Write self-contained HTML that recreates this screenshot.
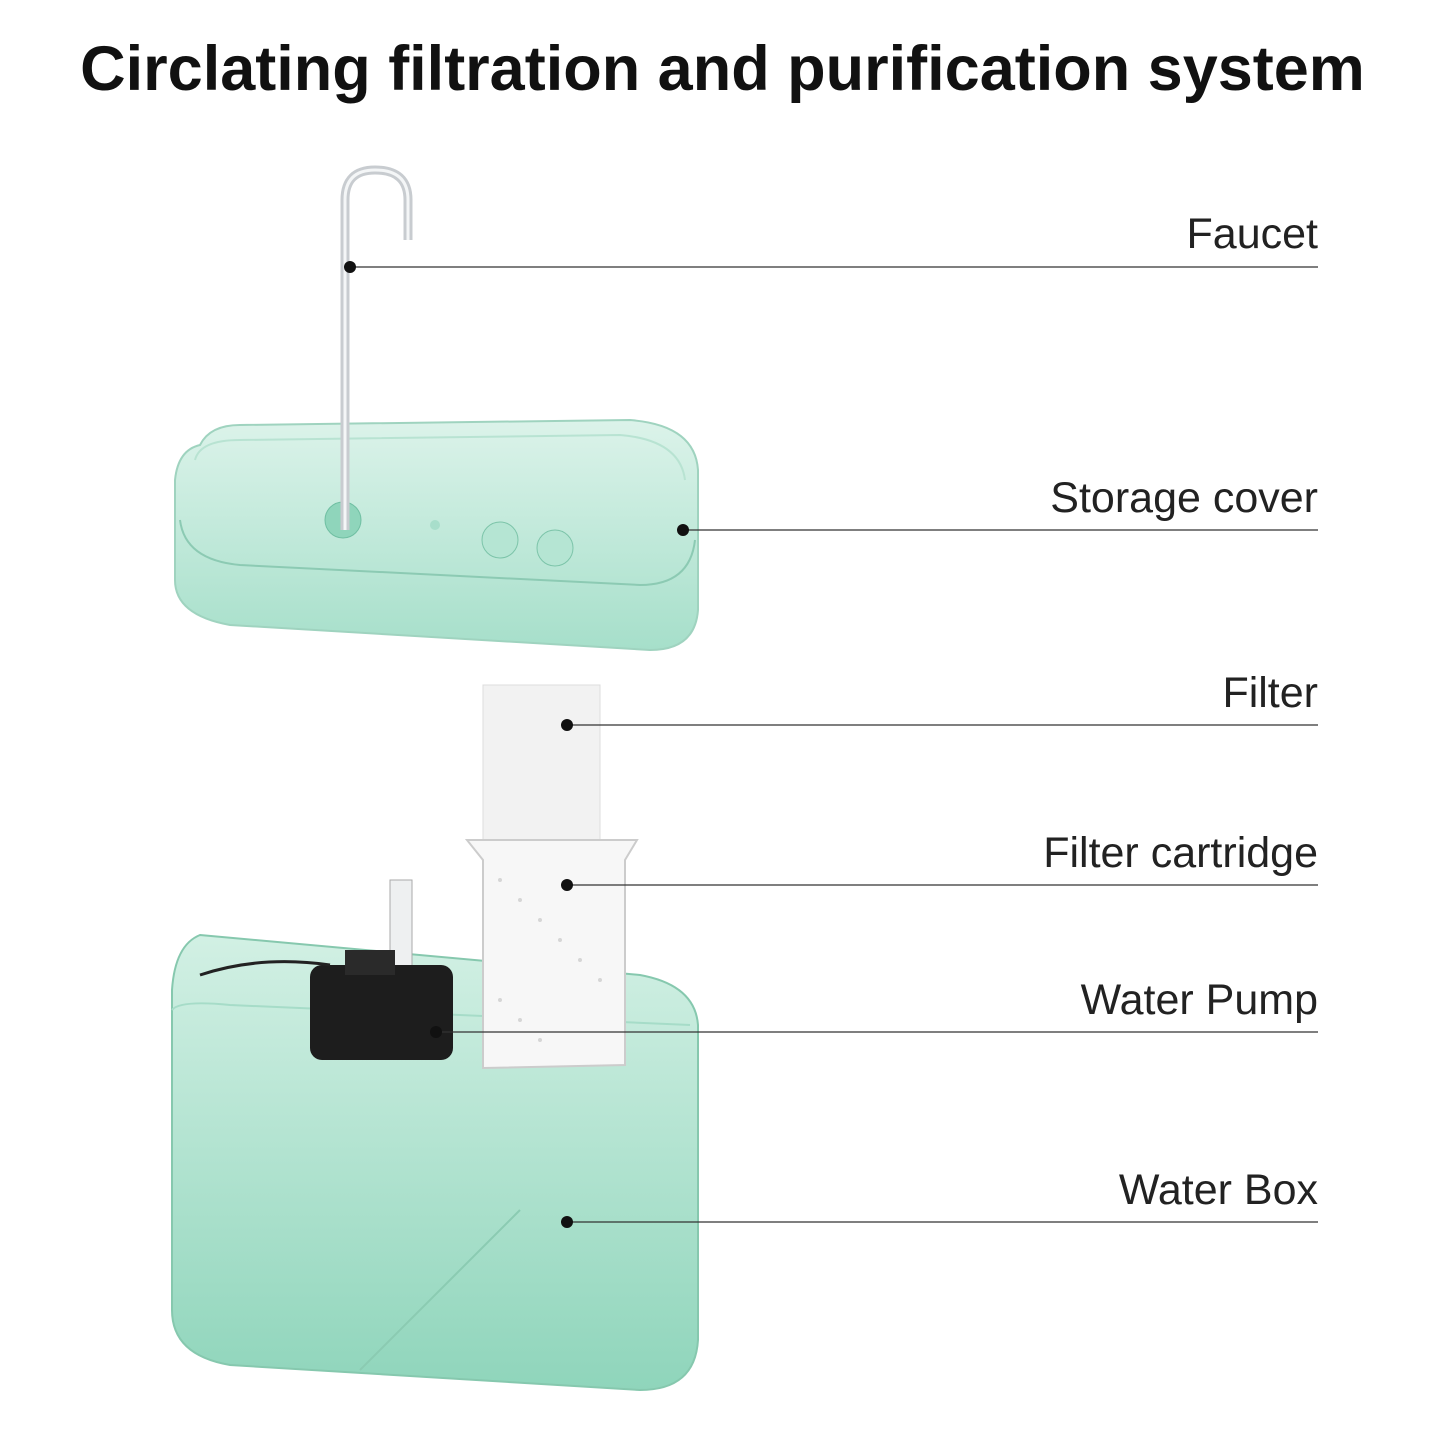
<!DOCTYPE html>
<html><head><meta charset="utf-8"><style>
html,body{margin:0;padding:0;background:#fff;}
body{width:1445px;height:1445px;position:relative;overflow:hidden;font-family:"Liberation Sans",sans-serif;}
.t{position:absolute;left:0;width:1445px;top:33px;text-align:center;font-size:63px;font-weight:bold;color:#111;}
.l{position:absolute;right:127px;font-size:43px;color:#222;}
</style></head><body>
<div class="t">Circlating filtration and purification system</div>
<svg width="1445" height="1445" style="position:absolute;left:0;top:0">
<defs>
<linearGradient id="g1" x1="0" y1="0" x2="0" y2="1"><stop offset="0" stop-color="#dcf3ea"/><stop offset="1" stop-color="#a6dfca"/></linearGradient>
<linearGradient id="g2" x1="0" y1="0" x2="0" y2="1"><stop offset="0" stop-color="#d2f0e4"/><stop offset="1" stop-color="#8fd5bb"/></linearGradient>
</defs>
<!-- tray -->
<path d="M200 445 Q210 425 240 425 L630 420 Q695 425 698 470 L698 610 Q695 650 650 650 L230 625 Q175 615 175 580 L175 480 Q178 450 200 445Z" fill="url(#g1)" stroke="#9fd3bf" stroke-width="2"/>
<path d="M180 520 Q185 560 240 565 L640 585 Q690 585 695 540" fill="none" stroke="#8ccab3" stroke-width="2"/>
<path d="M195 460 Q200 440 240 440 L620 435 Q680 440 685 480" fill="none" stroke="#b8e3d2" stroke-width="2"/>
<circle cx="343" cy="520" r="18" fill="#8fd5bb" stroke="#6fbfa2"/>
<circle cx="500" cy="540" r="18" fill="#b5e5d3" stroke="#7cc4a9"/>
<circle cx="555" cy="548" r="18" fill="#b5e5d3" stroke="#7cc4a9"/>
<circle cx="435" cy="525" r="5" fill="#a8decb"/>
<!-- faucet -->
<path d="M345 530 L345 200 Q345 170 375 170 Q408 170 408 200 L408 240" fill="none" stroke="#c8ccd0" stroke-width="9"/>
<path d="M345 530 L345 200 Q345 170 375 170 Q408 170 408 200 L408 240" fill="none" stroke="#f4f6f7" stroke-width="3"/>
<!-- box -->
<path d="M200 935 L640 975 Q695 985 698 1025 L698 1340 Q695 1390 640 1390 L230 1365 Q172 1355 172 1310 L172 990 Q175 945 200 935Z" fill="url(#g2)" stroke="#86c8ae" stroke-width="2"/>
<path d="M172 1010 Q180 1000 230 1005 L690 1025" fill="none" stroke="#a6dcc8" stroke-width="2"/>
<path d="M360 1370 L520 1210" stroke="#8bcbb2" stroke-width="2"/>
<!-- pump -->
<rect x="390" y="880" width="22" height="100" fill="#eef0f1" stroke="#aaa"/>
<rect x="310" y="965" width="143" height="95" rx="12" fill="#1d1d1d"/>
<rect x="345" y="950" width="50" height="25" fill="#2a2a2a"/>
<path d="M200 975 Q260 955 330 965" fill="none" stroke="#222" stroke-width="3"/>
<!-- filter -->
<rect x="483" y="685" width="117" height="170" fill="#f2f2f2" stroke="#ddd"/>
<path d="M467 840 L637 840 L625 860 L625 1065 L483 1068 L483 860Z" fill="#f7f7f7" stroke="#ccc" stroke-width="2"/>
<g fill="#d6d6d6">
<circle cx="500" cy="880" r="2"/><circle cx="520" cy="900" r="2"/><circle cx="540" cy="920" r="2"/><circle cx="560" cy="940" r="2"/><circle cx="580" cy="960" r="2"/><circle cx="600" cy="980" r="2"/><circle cx="500" cy="1000" r="2"/><circle cx="520" cy="1020" r="2"/><circle cx="540" cy="1040" r="2"/>
</g>
<!-- leader lines -->
<g stroke="#333" stroke-width="1.3">
<line x1="350" y1="267" x2="1318" y2="267"/>
<line x1="683" y1="530" x2="1318" y2="530"/>
<line x1="567" y1="725" x2="1318" y2="725"/>
<line x1="567" y1="885" x2="1318" y2="885"/>
<line x1="436" y1="1032" x2="1318" y2="1032"/>
<line x1="567" y1="1222" x2="1318" y2="1222"/>
</g>
<g fill="#111">
<circle cx="350" cy="267" r="6"/><circle cx="683" cy="530" r="6"/><circle cx="567" cy="725" r="6"/><circle cx="567" cy="885" r="6"/><circle cx="436" cy="1032" r="6"/><circle cx="567" cy="1222" r="6"/>
</g>
</svg>
<div class="l" style="top:210px">Faucet</div>
<div class="l" style="top:474px">Storage cover</div>
<div class="l" style="top:669px">Filter</div>
<div class="l" style="top:829px">Filter cartridge</div>
<div class="l" style="top:976px">Water Pump</div>
<div class="l" style="top:1166px">Water Box</div>
</body></html>
